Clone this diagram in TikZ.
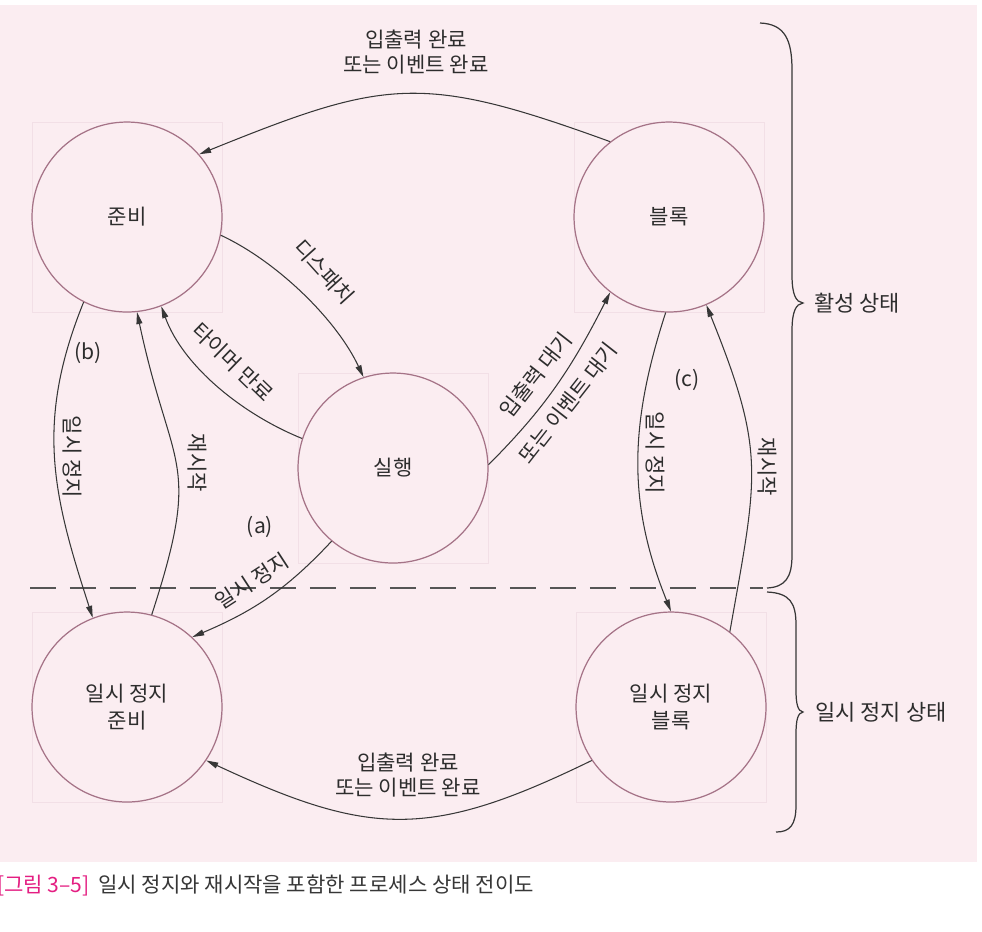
\documentclass[tikz,border=0pt]{standalone}
\usepackage{fontspec}
\setmainfont{Noto Sans CJK KR}
\usetikzlibrary{arrows.meta}
\definecolor{bgpink}{RGB}{251,237,241}
\definecolor{guide}{RGB}{242,223,230}
\definecolor{circ}{RGB}{165,115,135}
\definecolor{ink}{RGB}{55,55,55}
\definecolor{txt}{RGB}{45,45,45}
\definecolor{capmag}{RGB}{228,30,130}
\tikzset{
  state/.style={circle, draw=circ, line width=0.7pt, minimum size=3.8cm, inner sep=0pt,
    text=txt, font=\fontsize{12}{15}\selectfont, align=center},
  arr/.style={draw=ink, line width=0.6pt, -{Triangle[length=0.24cm,width=0.12cm]}},
  lbl/.style={text=txt, font=\fontsize{12}{14.5}\selectfont, inner sep=0pt, align=center},
  brace/.style={draw=ink, line width=0.7pt},
  guidebox/.style={draw=guide, line width=0.4pt}
}
\begin{document}
\begin{tikzpicture}[x=0.02cm,y=0.02cm]
\useasboundingbox (0,0) rectangle (982,-931);
\fill[white] (0,0) rectangle (982,-931);
\fill[bgpink] (0,-5) rectangle (977,-862);

% faint guide boxes
\foreach \cx/\cy in {127/217, 669/217, 393/468, 127/707, 671/707}{
  \draw[guidebox] (\cx-95,-\cy+95) rectangle (\cx+95,-\cy-95);
}

% states
\node[state] (R)  at (127,-217) {준비};
\node[state] (B)  at (669,-217) {블록};
\node[state] (X)  at (393,-468) {실행};
\node[state] (SR) at (127,-707) {일시 정지\\준비};
\node[state] (SB) at (671,-707) {일시 정지\\블록};

% dashed separator
\coordinate (dL) at (30,-588);
\coordinate (dR) at (763,-588);
\draw[draw=ink!85, line width=0.6pt, dash pattern=on 0.52cm off 0.28cm] (dL) -- (dR);

% transitions
\draw[arr] (B.128) to[out=160, in=22, looseness=1.25] (R.41);
\draw[arr] (R.-11) to[out=-25, in=115, looseness=0.8] (X.108);
\draw[arr] (X.162) to[out=158, in=-70, looseness=0.85] (R.-69);
\draw[arr] (R.-117) to[out=-112, in=108, looseness=1.05] (SR.111);
\draw[arr] (SR.75) to[out=72, in=-78, looseness=1.4] (R.-84);
\draw[arr] (X.-130) to[out=-133, in=23, looseness=1] (SR.47);
\draw[arr] (X.2) to[out=45, in=-117] (B.-128);
\draw[arr] (B.-92) to[out=-108, in=112] (SB.90);
\draw[arr] (SB.52) to[out=80, in=-68, looseness=1.25] (B.-67);
\draw[arr] (SB.-146) to[out=-154, in=-25, looseness=1.2] (SR.-34);

% labels
\node[lbl] (lTop) at (416,-52) {입출력 완료\\또는 이벤트 완료};
\node[lbl] (lBot) at (408,-775) {입출력 완료\\또는 이벤트 완료};
\node[lbl, rotate=-48] (lDisp) at (324,-272) {디스패치};
\node[lbl, rotate=-44] (lTimer) at (233,-362) {타이머 만료};
\node[lbl] (lb) at (88,-353) {(b)};
\node[lbl, rotate=-90] (lSusB) at (72,-457) {일시 정지};
\node[lbl, rotate=-90] (lResL) at (197,-463) {재시작};
\node[lbl] (la) at (260,-527) {(a)};
\node[lbl, rotate=33] (lSusA) at (252,-581) {일시 정지};
\node[lbl, rotate=52] (lWait1) at (536,-375) {입출력 대기};
\node[lbl, rotate=52] (lWait2) at (568,-403) {또는 이벤트 대기};
\node[lbl] (lc) at (687,-380) {(c)};
\node[lbl, rotate=-90] (lSusC) at (655,-453) {일시 정지};
\node[lbl, rotate=-90] (lResR) at (767,-467) {재시작};

% braces
\draw[brace] (760,-23) .. controls (785,-24) and (792,-40) .. (792,-70)
  -- (792,-275) .. controls (792,-295) and (796,-302) .. (803,-303)
  .. controls (796,-304) and (792,-311) .. (792,-331)
  -- (792,-555) .. controls (792,-578) and (785,-587) .. (767,-588);
\draw[brace] (767,-592) .. controls (790,-593) and (796,-603) .. (796,-625)
  -- (796,-690) .. controls (796,-705) and (798,-711) .. (803,-712)
  .. controls (798,-713) and (796,-719) .. (796,-734)
  -- (796,-805) .. controls (796,-825) and (790,-832) .. (776,-832);
\node[lbl, anchor=west, font=\fontsize{12.5}{15}\selectfont] (act) at (814,-303) {활성 상태};
\node[lbl, anchor=west, font=\fontsize{12.5}{15}\selectfont] (sus) at (815,-712) {일시 정지 상태};

% caption
\node[anchor=west, inner sep=0pt, font=\fontsize{12}{14}\selectfont] (cap) at (-3,-885)
  {\textcolor{capmag}{[그림 3–5]}\hspace{0.4em}\textcolor{ink}{일시 정지와 재시작을 포함한 프로세스 상태 전이도}};
\end{tikzpicture}
\end{document}
